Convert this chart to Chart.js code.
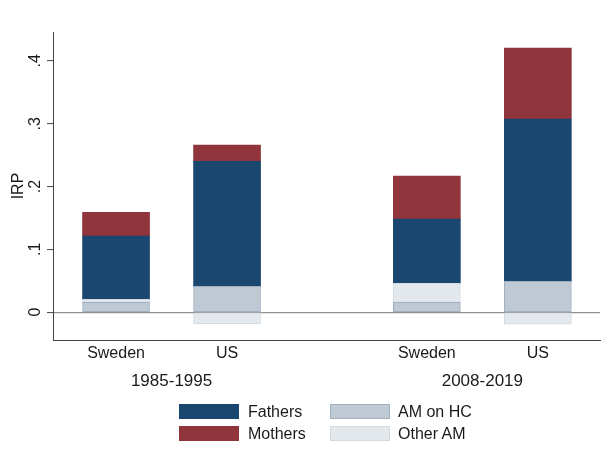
<!DOCTYPE html>
<html><head><meta charset="utf-8">
<script src="https://cdn.jsdelivr.net/npm/chart.js@4.4.0/dist/chart.umd.min.js"></script>
<style>
html,body{margin:0;padding:0;background:#fff;}
#wrap{position:relative;width:606px;height:463px;overflow:hidden;}
canvas{position:absolute;left:0;top:0;}
.lt{position:absolute;font-family:"Liberation Sans",Arial,Helvetica,sans-serif;font-size:16px;line-height:18px;color:#1a1a1a;white-space:nowrap;}
.box{position:absolute;width:60px;height:15px;box-sizing:border-box;}
</style></head><body>
<div id="wrap"><canvas id="c" width="606" height="463"></canvas>
<div class="box" style="left:179px;top:404px;background:#1a476f;"></div>
<div class="lt" style="left:248px;top:402.5px;">Fathers</div>
<div class="box" style="left:179px;top:426px;background:#90353b;"></div>
<div class="lt" style="left:248px;top:424.5px;">Mothers</div>
<div class="box" style="left:330px;top:404px;background:#bfc9d3;border:1px solid #9fb0c2;"></div>
<div class="lt" style="left:398px;top:402.5px;">AM on HC</div>
<div class="box" style="left:330px;top:426px;background:#e3e8ec;border:1px solid #d2dae2;"></div>
<div class="lt" style="left:398px;top:424.5px;">Other AM</div>
</div>
<script>
const countries = ['Sweden', 'US', 'Sweden', 'US'];
const periods = ['1985-1995', '2008-2019'];
const barPos = [0, 1, 2.8, 3.8];
const periodPos = [0.5, 3.3];
const amOnHC = [0.0155, 0.041, 0.0155, 0.049];
const otherAM = [0.0048, -0.0185, 0.0303, -0.0191];
const fathers = [0.1009, 0.199, 0.1023, 0.2583];
const mothers = [0.0378, 0.026, 0.0686, 0.1133];
const yTicks = [0, 0.1, 0.2, 0.3, 0.4];
const yTickLabels = ['0', '.1', '.2', '.3', '.4'];

const FONT = '"Liberation Sans", Arial, Helvetica, sans-serif';
const pts = arr => barPos.map((x, i) => ({x: x, y: arr[i]}));

const yLabelPlugin = {
  id: 'yLabels',
  afterDraw(chart) {
    const s = chart.scales.y, ctx = chart.ctx;
    ctx.save();
    ctx.font = '16px ' + FONT;
    ctx.fillStyle = '#1a1a1a';
    ctx.textAlign = 'center';
    ctx.textBaseline = 'alphabetic';
    yTicks.forEach((v, i) => {
      const py = s.getPixelForValue(v);
      ctx.save();
      ctx.translate(40, py);
      ctx.rotate(-Math.PI / 2);
      ctx.fillText(yTickLabels[i], 0, 0);
      ctx.restore();
    });
    ctx.restore();
  }
};

const XMIN = -0.568, XMAX = 4.36;

new Chart(document.getElementById('c'), {
  type: 'bar',
  data: {
    datasets: [
      {label: 'AM on HC', data: pts(amOnHC), backgroundColor: '#bfc9d3', borderColor: '#9fb0c2', borderWidth: 1, borderSkipped: false, barThickness: 67},
      {label: 'Other AM', data: pts(otherAM), backgroundColor: '#e3e8ec', borderColor: '#d2dae2', borderWidth: 1, borderSkipped: false, barThickness: 67},
      {label: 'Fathers', data: pts(fathers), backgroundColor: '#1a476f', borderWidth: 0, barThickness: 67},
      {label: 'Mothers', data: pts(mothers), backgroundColor: '#90353b', borderWidth: 0, barThickness: 67}
    ]
  },
  options: {
    responsive: false,
    animation: false,
    devicePixelRatio: 1,
    layout: {padding: {left: 0, right: 6, top: 32, bottom: 65}},
    plugins: {legend: {display: false}, tooltip: {enabled: false}},
    scales: {
      x: {
        type: 'linear', min: XMIN, max: XMAX, stacked: true, position: 'bottom', offset: false,
        afterBuildTicks: s => { s.ticks = barPos.map(v => ({value: v})); },
        afterFit: s => { s.height = 30; },
        ticks: {autoSkip: false, maxRotation: 0, minRotation: 0, padding: -4,
          font: {family: FONT, size: 16}, color: '#1a1a1a',
          callback: (v, i) => countries[i]},
        grid: {display: false, offset: false},
        border: {display: true, color: '#444', width: 1}
      },
      x2: {
        type: 'linear', min: XMIN, max: XMAX, position: 'bottom', offset: false,
        afterBuildTicks: s => { s.ticks = periodPos.map(v => ({value: v})); },
        afterFit: s => { s.height = 28; },
        ticks: {autoSkip: false, maxRotation: 0, minRotation: 0, padding: -7,
          font: {family: FONT, size: 17}, color: '#1a1a1a',
          callback: (v, i) => periods[i]},
        grid: {display: false, offset: false},
        border: {display: false}
      },
      y: {
        min: -0.0443, max: 0.446, stacked: true, z: 1,
        afterBuildTicks: s => { s.ticks = yTicks.map(v => ({value: v})); },
        afterFit: s => { s.width = 53; },
        ticks: {display: false},
        grid: {
          color: c => (c.tick && c.tick.value === 0) ? '#8f8f8f' : 'rgba(0,0,0,0)',
          lineWidth: 1.2, tickColor: '#444', tickWidth: 1, tickLength: 6, drawTicks: true
        },
        border: {display: true, color: '#444', width: 1},
        title: {display: true, text: 'IRP', font: {family: FONT, size: 16}, color: '#1a1a1a', padding: {top: 9, bottom: 0}}
      }
    }
  },
  plugins: [yLabelPlugin]
});
</script>
</body></html>
